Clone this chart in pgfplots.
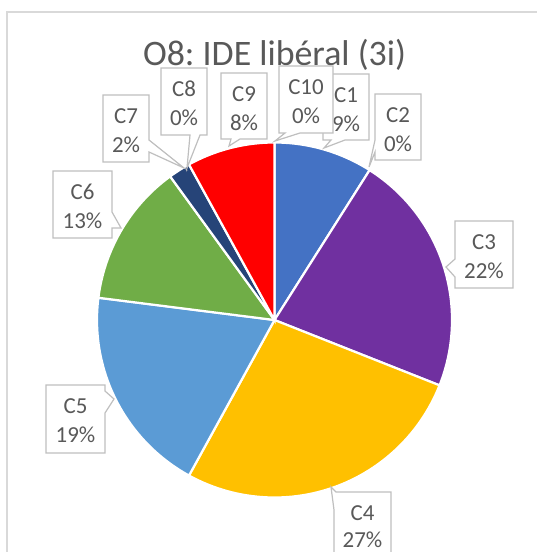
\documentclass[border=0pt]{standalone}
\usepackage{pgfplots}
\pgfplotsset{compat=1.18}
\usepackage{fontspec}
\setmainfont{Carlito}
\frenchspacing
\definecolor{cA}{HTML}{4472C4}
\definecolor{cB}{HTML}{ED7D31}
\definecolor{cC}{HTML}{7030A0}
\definecolor{cD}{HTML}{FFC000}
\definecolor{cE}{HTML}{5B9BD5}
\definecolor{cF}{HTML}{70AD47}
\definecolor{cG}{HTML}{264478}
\definecolor{cI}{HTML}{FF0000}
\definecolor{txt}{HTML}{595959}
\definecolor{boxc}{HTML}{BFBFBF}
\definecolor{frame}{HTML}{D9D9D9}
\newcommand{\lbl}{\fontsize{23}{28}\selectfont}
% pie centre (274.5,320), radius 177.5 (pixel units, y downward)
% slice shares in percent: C1 9, C2 0, C3 22, C4 27, C5 19, C6 13, C7 2, C8 0, C9 8, C10 0
\newcommand{\slice}[3]{% colour, cumulative start %, cumulative end %
  \addplot[draw=white, line width=2.2bp, fill=#1, domain={90-3.6*(#3)}:{90-3.6*(#2)}, samples=60]
    ({274.5+177.5*cos(x)},{320-177.5*sin(x)}) -- (axis cs:274.5,320) -- cycle;}
\begin{document}
\begin{tikzpicture}
\begin{axis}[width=537bp, height=552bp, scale only axis,
  xmin=0, xmax=537, ymin=0, ymax=552, y dir=reverse, hide axis]
\draw[frame, line width=1.2bp] (axis cs:7,12) rectangle (axis cs:600,600);
% title
\node[anchor=base, text=txt, font=\fontsize{36}{40}\selectfont] at (axis cs:274.5,66) {O8: IDE libéral (3i)};
% pie
\slice{cA}{0}{9}
\slice{cC}{9}{31}
\slice{cD}{31}{58}
\slice{cE}{58}{77}
\slice{cF}{77}{90}
\slice{cG}{90}{92}
\slice{cI}{92}{100}
% callouts
\tikzset{co/.style={draw=boxc, fill=white, line width=1.2bp}, lt/.style={anchor=base, text=txt, font=\lbl}}
% C1
\draw[co] (axis cs:323,74) -- (axis cs:369,74) -- (axis cs:369,140) -- (axis cs:345,140) -- (axis cs:324,148) -- (axis cs:331,140) -- (axis cs:323,140) -- cycle;
\node[lt] at (axis cs:346,102.5) {C1};
\node[lt] at (axis cs:346,131) {9\%};
% C10
\draw[co] (axis cs:279,66) -- (axis cs:333,66) -- (axis cs:333,133) -- (axis cs:300,133) -- (axis cs:275,141) -- (axis cs:285,133) -- (axis cs:279,133) -- cycle;
\node[lt] at (axis cs:306,94.5) {C10};
\node[lt] at (axis cs:306,123) {0\%};
% C2
\draw[co] (axis cs:375,94) -- (axis cs:421,94) -- (axis cs:421,160) -- (axis cs:375,160) -- (axis cs:375,152) -- (axis cs:369,167) -- (axis cs:375,140) -- cycle;
\node[lt] at (axis cs:398,122.5) {C2};
\node[lt] at (axis cs:398,151) {0\%};
% C3
\draw[co] (axis cs:455,221) -- (axis cs:513,221) -- (axis cs:513,288) -- (axis cs:455,288) -- (axis cs:455,277) -- (axis cs:446,267) -- (axis cs:455,259) -- cycle;
\node[lt] at (axis cs:484,249.5) {C3};
\node[lt] at (axis cs:484,278) {22\%};
% C4
\draw[co] (axis cs:336,492) -- (axis cs:391,492) -- (axis cs:391,570) -- (axis cs:334,570) -- (axis cs:334,510) -- (axis cs:331,487) -- cycle;
\node[lt] at (axis cs:362.5,520) {C4};
\node[lt] at (axis cs:362.5,547.5) {27\%};
% C5
\draw[co] (axis cs:46,385) -- (axis cs:105,385) -- (axis cs:105,391) -- (axis cs:114,399) -- (axis cs:105,413) -- (axis cs:105,453) -- (axis cs:46,453) -- cycle;
\node[lt] at (axis cs:75.5,413.5) {C5};
\node[lt] at (axis cs:75.5,442) {19\%};
% C6
\draw[co] (axis cs:53,171) -- (axis cs:112,171) -- (axis cs:112,212) -- (axis cs:121,228) -- (axis cs:112,228) -- (axis cs:112,238) -- (axis cs:53,238) -- cycle;
\node[lt] at (axis cs:82.5,199.5) {C6};
\node[lt] at (axis cs:82.5,228) {13\%};
% C7
\draw[co] (axis cs:103,95) -- (axis cs:149,95) -- (axis cs:149,140) -- (axis cs:184,168) -- (axis cs:149,152) -- (axis cs:149,162) -- (axis cs:103,162) -- cycle;
\node[lt] at (axis cs:126,123.5) {C7};
\node[lt] at (axis cs:126,152) {2\%};
% C8
\draw[co] (axis cs:161,68) -- (axis cs:207,68) -- (axis cs:207,135) -- (axis cs:200,135) -- (axis cs:187,168) -- (axis cs:190,135) -- (axis cs:161,135) -- cycle;
\node[lt] at (axis cs:184,96.5) {C8};
\node[lt] at (axis cs:184,125) {0\%};
% C9
\draw[co] (axis cs:221,73) -- (axis cs:267,73) -- (axis cs:267,139) -- (axis cs:240,139) -- (axis cs:229,146) -- (axis cs:231,139) -- (axis cs:221,139) -- cycle;
\node[lt] at (axis cs:244,101.5) {C9};
\node[lt] at (axis cs:244,130) {8\%};
\end{axis}
\pgfresetboundingbox
\useasboundingbox (current axis.south west) rectangle (current axis.north east);
\end{tikzpicture}
\end{document}
